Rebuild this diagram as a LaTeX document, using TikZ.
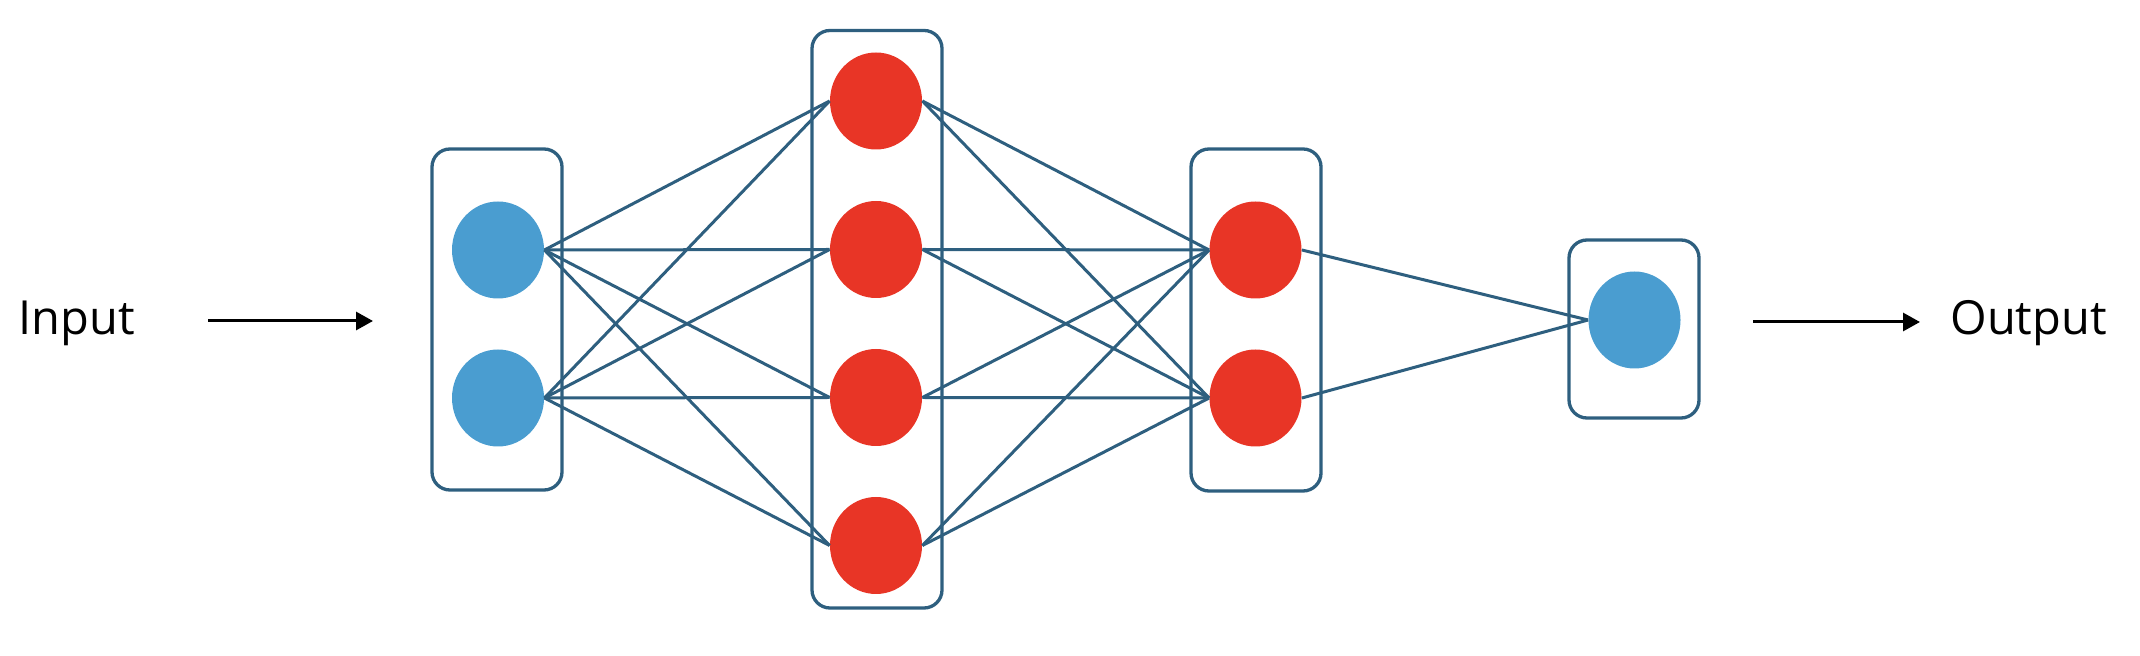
\documentclass[tikz,border=0pt]{standalone}
\usepackage{fontspec}
\setmainfont{Open Sans}
\usetikzlibrary{shapes.geometric,arrows.meta}
\definecolor{edgecol}{HTML}{2E5F7F}
\definecolor{bluefill}{HTML}{4A9DD0}
\definecolor{redfill}{HTML}{E83526}
\tikzset{
  layerbox/.style={draw=edgecol, line width=1.65pt, rounded corners=9pt, minimum width=65pt, inner sep=0pt},
  bluenode/.style={ellipse, fill=bluefill, inner sep=0pt, minimum width=46pt, minimum height=48.5pt},
  rednode/.style={ellipse, fill=redfill, inner sep=0pt, minimum width=46pt, minimum height=48.5pt},
  conn/.style={draw=edgecol, line width=1.5pt},
  flow/.style={draw=black, line width=1.5pt, -{Triangle[length=8.5pt,width=9pt]}},
  label/.style={font=\fontsize{23.5pt}{28pt}\selectfont, inner sep=0pt}
}
\begin{document}
\begin{tikzpicture}[x=0.5pt,y=-0.5pt]
\useasboundingbox (0,0) rectangle (2140,656);
% layer boxes
\node[layerbox, minimum height=170.5pt] (b1) at (497,319.5) {};
\node[layerbox, minimum height=288.75pt] (b2) at (877,319.25) {};
\node[layerbox, minimum height=171pt] (b3) at (1256,320) {};
\node[layerbox, minimum height=89pt] (b4) at (1634,329) {};
% neurons
\node[bluenode] (i1) at (498,250) {};
\node[bluenode] (i2) at (498,398) {};
\node[rednode] (h1) at (876,101) {};
\node[rednode] (h2) at (876,249.5) {};
\node[rednode] (h3) at (876,397.5) {};
\node[rednode] (h4) at (876,545.5) {};
\node[rednode] (g1) at (1255.5,250) {};
\node[rednode] (g2) at (1255.5,398) {};
\node[bluenode] (o1) at (1634.5,320) {};
% connectors
\foreach \a in {i1,i2}{\foreach \b in {h1,h2,h3,h4}{\draw[conn] (\a.east) -- (\b.west);}}
\foreach \a in {h1,h2,h3,h4}{\foreach \b in {g1,g2}{\draw[conn] (\a.east) -- (\b.west);}}
\foreach \a in {g1,g2}{\draw[conn] (\a.east) -- (o1.west);}
% input / output
\node[label, anchor=base west] (inp) at (18,335) {Input};
\node[label, anchor=base west] (outp) at (1950,335) {Output};
\coordinate (ia) at (208,321);
\coordinate (ib) at (373,321);
\coordinate (oa) at (1753,322);
\coordinate (ob) at (1920,322);
\draw[flow] (ia) -- (ib);
\draw[flow] (oa) -- (ob);
\end{tikzpicture}
\end{document}
